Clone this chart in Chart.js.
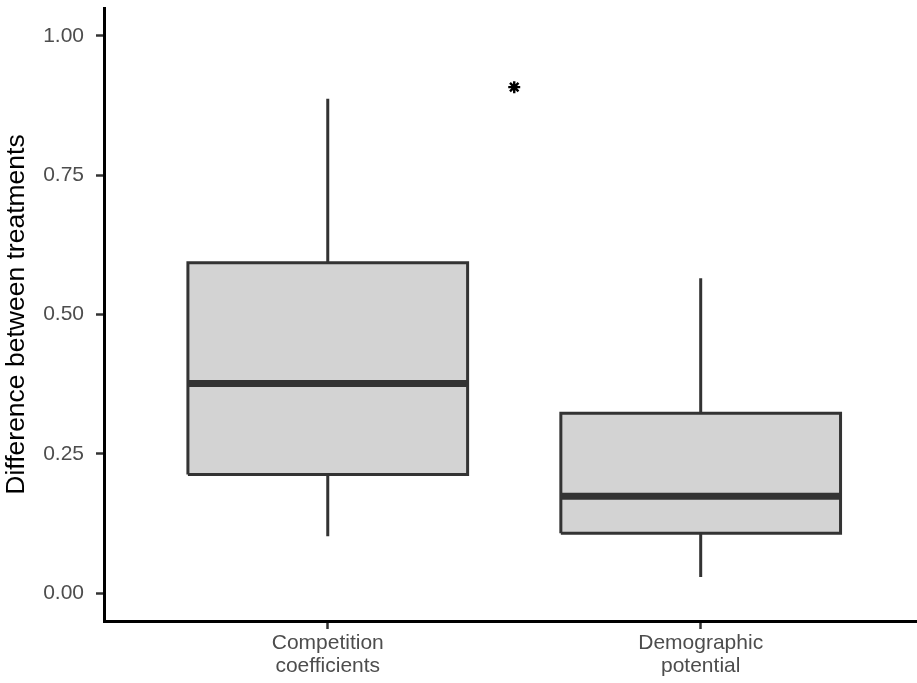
<!DOCTYPE html>
<html>
<head>
<meta charset="utf-8">
<script src="https://cdn.jsdelivr.net/npm/chart.js@4/dist/chart.umd.min.js"></script>
<style>
  html, body { margin: 0; padding: 0; background: #fff; overflow: hidden; }
  canvas { display: block; }
</style>
</head>
<body>
<canvas id="boxPlot" width="917" height="683"></canvas>
<script>
// groups and their summary stats
const categories = [['Competition', 'coefficients'], ['Demographic', 'potential']];
const groupPos = [1, 2];
const whiskerLow = [0.102, 0.029];
const lowerQuart = [0.213, 0.1075];
const medians = [0.376, 0.174];
const upperQuart = [0.593, 0.323];
const whiskerHigh = [0.887, 0.565];
const yTicks = [0, 0.25, 0.5, 0.75, 1.0];
const starMark = [{ x: 1.5, y: 0.908 }];  // significance asterisk

const half = 0.375; // half box width (x units)
const dark = '#333333';

const datasets = [];
groupPos.forEach((c, i) => {
    // box outline + fill (drawn underneath)
    datasets.push({
        order: 3,
        data: [
            { x: c - half, y: lowerQuart[i] },
            { x: c + half, y: lowerQuart[i] },
            { x: c + half, y: upperQuart[i] },
            { x: c - half, y: upperQuart[i] },
            { x: c - half, y: lowerQuart[i] }
        ],
        showLine: true,
        fill: 'shape',
        backgroundColor: '#D3D3D3',
        borderColor: dark,
        borderWidth: 3,
        borderJoinStyle: 'miter',
        pointRadius: 0,
        tension: 0
    });
    // median
    datasets.push({
        order: 1,
        data: [{ x: c - half, y: medians[i] }, { x: c + half, y: medians[i] }],
        showLine: true,
        borderColor: dark,
        borderWidth: 7,
        pointRadius: 0
    });
    // whiskers
    datasets.push({
        order: 2,
        data: [
            { x: c, y: whiskerLow[i] }, { x: c, y: lowerQuart[i] },
            { x: c, y: null },
            { x: c, y: upperQuart[i] }, { x: c, y: whiskerHigh[i] }
        ],
        showLine: true,
        spanGaps: false,
        borderColor: dark,
        borderWidth: 3,
        pointRadius: 0
    });
});
datasets.push({
    order: 0,
    data: starMark,
    pointStyle: 'star',
    pointRadius: 6,
    borderWidth: 2.4,
    borderColor: '#000',
    backgroundColor: '#000'
});

new Chart(document.getElementById('boxPlot'), {
    type: 'scatter',
    data: { datasets: datasets },
    options: {
        responsive: false,
        animation: false,
        layout: { autoPadding: false, padding: { top: 8, right: 0, left: 0, bottom: 0 } },
        plugins: {
            legend: { display: false },
            tooltip: { enabled: false }
        },
        scales: {
            x: {
                type: 'linear',
                min: 0.4,
                max: 2.58,
                afterBuildTicks: function (scale) {
                    scale.ticks = groupPos.map(v => ({ value: v }));
                },
                afterFit: function (scale) {
                    scale.height = 62;
                    scale.paddingLeft = 0;
                    scale.paddingRight = 0;
                },
                ticks: {
                    callback: function (v) {
                        const i = groupPos.indexOf(v);
                        return i >= 0 ? categories[i] : '';
                    },
                    font: { family: 'Liberation Sans, Arial, sans-serif', size: 21, lineHeight: 1.08 },
                    color: '#4D4D4D',
                    padding: 3,
                    maxRotation: 0,
                    autoSkip: false
                },
                grid: {
                    drawOnChartArea: false,
                    drawTicks: true,
                    tickLength: 8,
                    tickWidth: 2.5,
                    tickColor: dark
                },
                border: { display: true, color: '#000', width: 3 }
            },
            y: {
                min: -0.05,
                max: 1.05,
                afterBuildTicks: function (scale) {
                    scale.ticks = yTicks.map(v => ({ value: v }));
                },
                afterFit: function (scale) {
                    scale.width = 104;
                    scale.paddingTop = 0;
                    scale.paddingBottom = 0;
                },
                ticks: {
                    callback: v => v.toFixed(2),
                    font: { family: 'Liberation Sans, Arial, sans-serif', size: 21 },
                    color: '#4D4D4D',
                    padding: 12
                },
                grid: {
                    drawOnChartArea: false,
                    drawTicks: true,
                    tickLength: 8,
                    tickWidth: 2.5,
                    tickColor: dark
                },
                border: { display: true, color: '#000', width: 3 },
                title: {
                    display: true,
                    text: 'Difference between treatments',
                    font: { family: 'Liberation Sans, Arial, sans-serif', size: 26.5 },
                    color: '#000',
                    padding: { top: 1, bottom: 0 }
                }
            }
        }
    }
});
</script>
</body>
</html>
